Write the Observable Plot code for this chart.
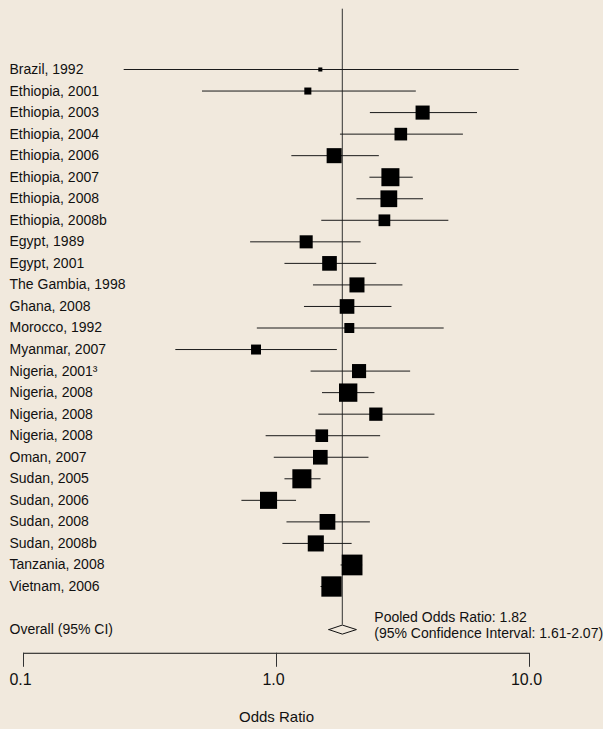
<!DOCTYPE html>
<html>
<head>
<meta charset="utf-8">
<script src="https://cdn.jsdelivr.net/npm/d3@7"></script>
<script src="https://cdn.jsdelivr.net/npm/@observablehq/plot@0.6"></script>
<style>
  html, body { margin: 0; padding: 0; background: #f1e9dd; }
  #chart svg { display: block; }
</style>
</head>
<body>
<div id="chart"></div>
<script>
const labels = ["Brazil, 1992","Ethiopia, 2001","Ethiopia, 2003","Ethiopia, 2004","Ethiopia, 2006","Ethiopia, 2007","Ethiopia, 2008","Ethiopia, 2008b","Egypt, 1989","Egypt, 2001","The Gambia, 1998","Ghana, 2008","Morocco, 1992","Myanmar, 2007","Nigeria, 2001³","Nigeria, 2008","Nigeria, 2008","Nigeria, 2008","Oman, 2007","Sudan, 2005","Sudan, 2006","Sudan, 2008","Sudan, 2008b","Tanzania, 2008","Vietnam, 2006"];
const oddsRatio = [1.49,1.33,3.78,3.10,1.69,2.82,2.78,2.67,1.31,1.62,2.08,1.90,1.94,0.83,2.12,1.92,2.47,1.51,1.49,1.26,0.93,1.59,1.43,1.99,1.65];
const ciLow  = [0.25,0.51,2.35,1.79,1.15,2.34,2.08,1.51,0.79,1.08,1.40,1.29,0.84,0.40,1.37,1.52,1.47,0.91,0.98,1.08,0.73,1.10,1.06,1.80,1.50];
const ciHigh = [9.10,3.57,6.23,5.48,2.55,3.47,3.81,4.80,2.16,2.49,3.16,2.86,4.60,1.74,3.39,2.45,4.23,2.58,2.32,1.50,1.20,2.35,1.99,2.19,1.80];
const weight = [0.3,0.9,3.6,2.9,4.1,5.9,5.1,2.5,3.1,3.9,4.1,3.9,1.8,1.8,3.6,6.1,3.2,2.9,3.9,6.6,5.3,4.5,4.7,7.8,7.5];

const pooledOR = 1.82, pooledLow = 1.61, pooledHigh = 2.07;
const overallLabel = "Overall (95% CI)";
const pooledText = "Pooled Odds Ratio: 1.82\n(95% Confidence Interval: 1.61-2.07)";
const xTicks = [0.1, 1, 10];
const xLabel = "Odds Ratio";

const studies = labels.map((label, i) => ({label, row: i, or: oddsRatio[i], lo: ciLow[i], hi: ciHigh[i], w: weight[i]}));
const overallRow = labels.length + 1;
const axisRow = labels.length + 2.1;
const dh = 0.21;
const diamond = [
  {x: pooledLow, y: overallRow},
  {x: pooledOR, y: overallRow - dh},
  {x: pooledHigh, y: overallRow},
  {x: pooledOR, y: overallRow + dh},
  {x: pooledLow, y: overallRow}
];
const bg = "#f1e9dd";
const font = "'Liberation Sans', Arial, sans-serif";

const chart = Plot.plot({
  width: 603,
  height: 729,
  marginTop: 69,
  marginBottom: 143,
  marginLeft: 23,
  marginRight: 74,
  style: {background: bg, fontFamily: font, color: "#111", overflow: "visible"},
  x: {type: "log", domain: [0.1, 10]},
  y: {domain: [0, labels.length - 1], reverse: true, axis: null},
  r: {type: "sqrt", domain: [0, 8], range: [0, 11.85]},
  marks: [
    Plot.ruleX([pooledOR], {y1: -2.8, y2: overallRow - dh, stroke: "#333", strokeWidth: 1}),
    Plot.ruleY(studies, {y: "row", x1: "lo", x2: "hi", stroke: "#1a1a1a", strokeWidth: 1}),
    Plot.dot(studies, {x: "or", y: "row", r: "w", symbol: "square", fill: "#000", stroke: "none"}),
    Plot.text(studies, {y: "row", text: "label", frameAnchor: "left", textAnchor: "start", dx: -14, fontSize: 14, fill: "#111"}),
    Plot.text([overallLabel], {y: overallRow, frameAnchor: "left", textAnchor: "start", dx: -14, fontSize: 14, fill: "#111"}),
    Plot.line(diamond, {x: "x", y: "y", fill: bg, stroke: "#111", strokeWidth: 1}),
    Plot.text([pooledText], {x: pooledOR, y: overallRow, dx: 32, dy: -5, textAnchor: "start", fontSize: 14, lineHeight: 1.15, fill: "#111"}),
    Plot.ruleY([axisRow], {x1: 0.1, x2: 10, stroke: "#111", strokeWidth: 1}),
    Plot.ruleX(xTicks, {y1: axisRow, y2: axisRow + 0.65, stroke: "#333", strokeWidth: 1}),
    Plot.axisX(xTicks, {anchor: "bottom", dy: 67, dx: -3, tickSize: 14, tickPadding: 6, fontSize: 16, tickFormat: d3.format(".1f"), label: null, stroke: "none"}),
    Plot.text([xLabel], {frameAnchor: "bottom", dy: 135, fontSize: 15, fill: "#111"})
  ]
});
document.getElementById("chart").appendChild(chart);
</script>
</body>
</html>
